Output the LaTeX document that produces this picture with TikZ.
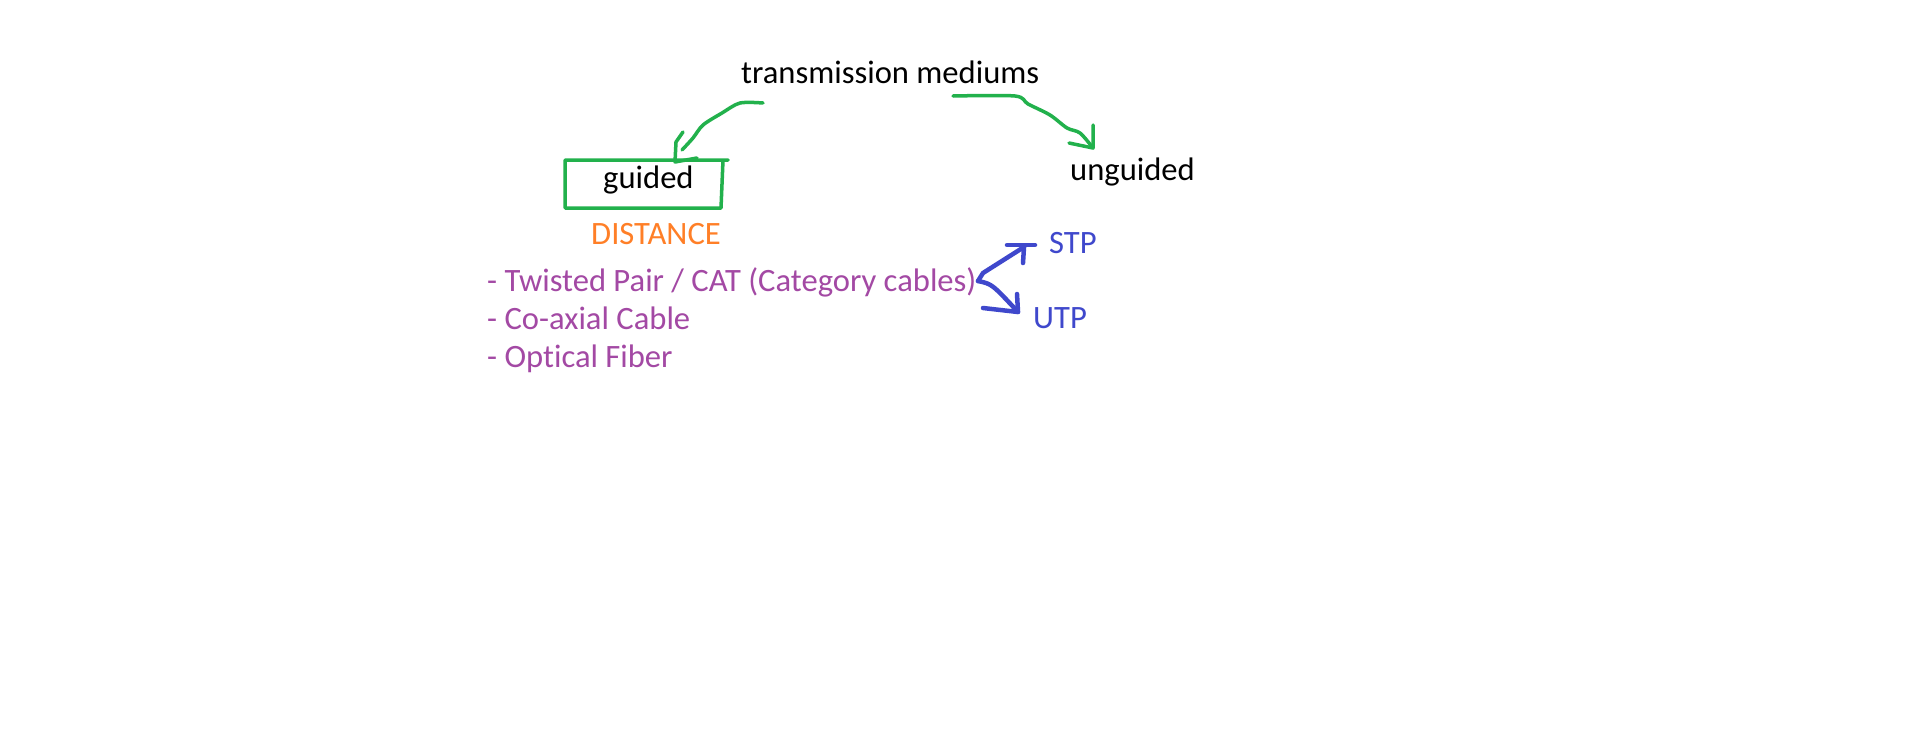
\documentclass[tikz,border=0pt]{standalone}
\usepackage{fontspec}
\setmainfont{Carlito}[Ligatures={NoCommon}]
\definecolor{pgreen}{HTML}{22B14C}
\definecolor{porange}{HTML}{FF7F27}
\definecolor{ppurple}{HTML}{A349A4}
\definecolor{pblue}{HTML}{3F48CC}
\begin{document}
\begin{tikzpicture}[x=1pt,y=-1pt,
  txt/.style={inner sep=0pt, anchor=base west, font=\fontsize{32.6}{39}\selectfont},
  gline/.style={draw=pgreen, line width=3.5pt, line cap=round, line join=round},
  bline/.style={draw=pblue, line width=4.5pt, line cap=round, line join=round}]
\useasboundingbox (0,0) rectangle (1914,734);
\fill[white] (0,0) rectangle (1914,734);

% texts
\node[txt] (tm) at (741,83) {transmission mediums};
\node[txt] (gd) at (603,188) {guided};
\node[txt] (ug) at (1070,180) {unguided};
\node[txt, text=porange] (dist) at (591,244) {DISTANCE};
\node[txt, text=ppurple] (l1) at (487,291) {- Twisted Pair / CAT (Category cables)};
\node[txt, text=ppurple] (l2) at (487,329) {- Co-axial Cable};
\node[txt, text=ppurple] (l3) at (487,367) {- Optical Fiber};
\node[txt, text=pblue] (stp) at (1049,253) {STP};
\node[txt, text=pblue] (utp) at (1033,328) {UTP};

% box round "guided"
\draw[gline] (723,160) -- (721,208) -- (565,208) -- (565,160) -- (728,160);

% left green arrow
\coordinate (ls) at (763,103);
\coordinate (lt) at (682,150);
\draw[gline] plot[smooth, tension=0.5] coordinates {(ls) (740,103) (722,113) (703,125) (693,138) (lt)};
\draw[gline] (683,132) -- (676,142) -- (675,162) -- (697,158);

% right green arrow
\coordinate (rs) at (953,96);
\coordinate (rt) at (1093,148);
\draw[gline] plot[smooth, tension=0.5] coordinates {(rs) (1015,96) (1028,104) (1050,115) (1067,128) (1080,133) (rt)};
\draw[gline] (1093,125) -- (rt) -- (1069,143);

% blue arrows
\coordinate (bs) at (978,281);
\coordinate (st) at (1024,247);
\coordinate (ut) at (1018,312);
\draw[bline] (bs) -- (983,273) -- (st);
\draw[bline] (1007,245) -- (1035,245);
\draw[bline] (st) -- (1023,263);
\draw[bline] (bs) .. controls (992,284) .. (ut);
\draw[bline] (1017,294) -- (ut) -- (983,308);
\end{tikzpicture}
\end{document}
